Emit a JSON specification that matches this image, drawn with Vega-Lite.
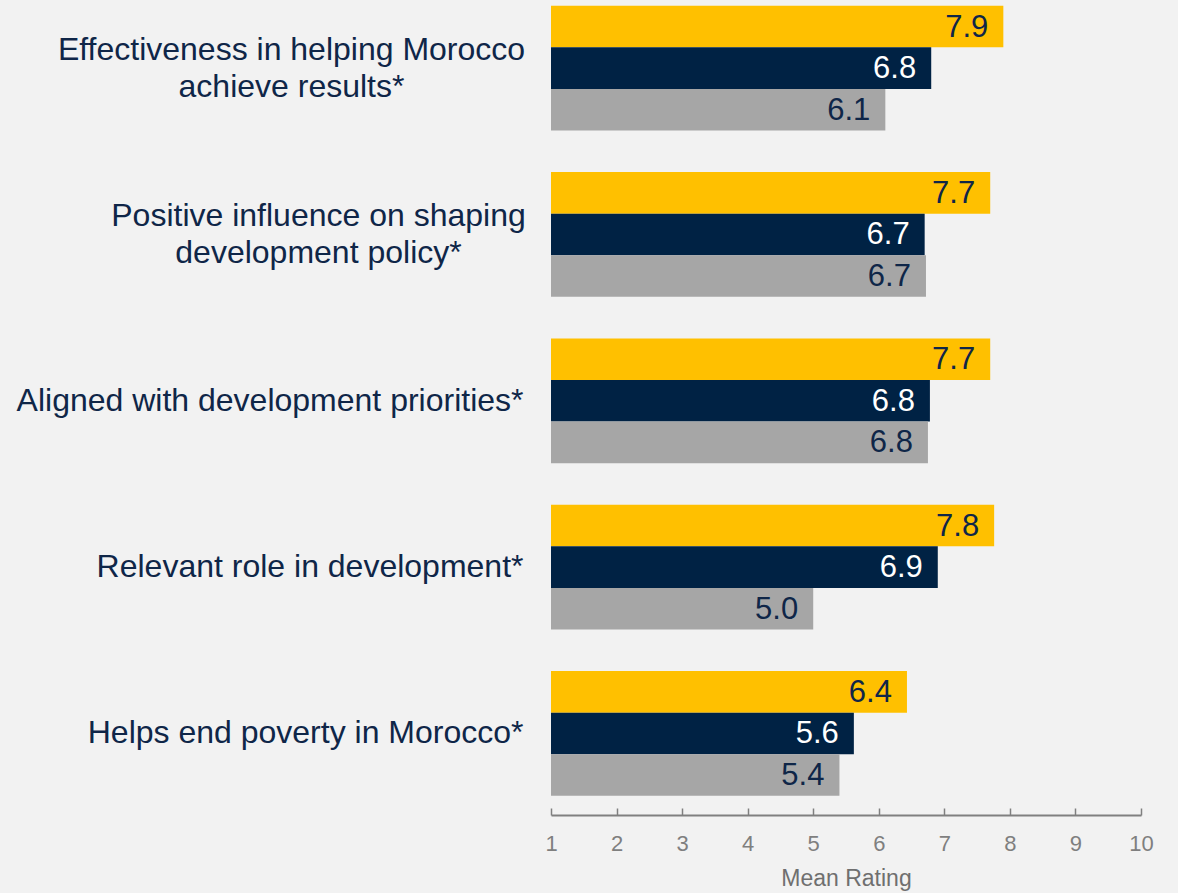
{
  "$schema": "https://vega.github.io/schema/vega-lite/v6.json",
  "autosize": "none",
  "width": 590,
  "height": 815,
  "padding": {"left": 551, "top": 0, "right": 37, "bottom": 78},
  "background": "#f2f2f2",
  "config": {"view": {"stroke": null}, "font": "Liberation Sans"},
  "data": {
    "values": [
      {"category": "Effectiveness in helping Morocco|achieve results*", "series": "A", "value": 7.9},
      {"category": "Effectiveness in helping Morocco|achieve results*", "series": "B", "value": 6.8},
      {"category": "Effectiveness in helping Morocco|achieve results*", "series": "C", "value": 6.1},
      {"category": "Positive influence on shaping|development policy*", "series": "A", "value": 7.7},
      {"category": "Positive influence on shaping|development policy*", "series": "B", "value": 6.7},
      {"category": "Positive influence on shaping|development policy*", "series": "C", "value": 6.72},
      {"category": "Aligned with development priorities*", "series": "A", "value": 7.7},
      {"category": "Aligned with development priorities*", "series": "B", "value": 6.78},
      {"category": "Aligned with development priorities*", "series": "C", "value": 6.75},
      {"category": "Relevant role in development*", "series": "A", "value": 7.76},
      {"category": "Relevant role in development*", "series": "B", "value": 6.9},
      {"category": "Relevant role in development*", "series": "C", "value": 5.0},
      {"category": "Helps end poverty in Morocco*", "series": "A", "value": 6.43},
      {"category": "Helps end poverty in Morocco*", "series": "B", "value": 5.62},
      {"category": "Helps end poverty in Morocco*", "series": "C", "value": 5.4}
    ]
  },
  "encoding": {
    "y": {
      "field": "category",
      "type": "nominal",
      "sort": null,
      "scale": {"paddingInner": 0.25, "paddingOuter": 0.075, "align": 0.23},
      "axis": {
        "title": null,
        "domain": false,
        "ticks": false,
        "labelExpr": "split(datum.label, '|')",
        "labelFontSize": 32,
        "labelLineHeight": 37,
        "labelColor": "#0f2648",
        "labelPadding": {
          "condition": [
            {"test": "indexof(datum.value, 'Effectiveness') >= 0", "value": 260},
            {"test": "indexof(datum.value, 'Positive') >= 0", "value": 233}
          ],
          "value": 28
        },
        "labelAlign": {
          "condition": {"test": "indexof(datum.value, '|') >= 0", "value": "center"},
          "value": "right"
        },
        "labelOffset": {
          "condition": {"test": "indexof(datum.value, '|') >= 0", "value": -18},
          "value": 0
        },
        "labelLimit": 0,
        "labelFont": "Liberation Sans"
      }
    },
    "yOffset": {
      "field": "series",
      "type": "nominal",
      "sort": ["A", "B", "C"],
      "scale": {"paddingInner": 0, "paddingOuter": 0}
    }
  },
  "layer": [
    {
      "mark": {"type": "bar", "cornerRadius": 0},
      "encoding": {
        "x": {
          "field": "value",
          "type": "quantitative",
          "scale": {"domain": [1, 10], "nice": false, "zero": false},
          "axis": {
            "values": [1, 2, 3, 4, 5, 6, 7, 8, 9, 10],
            "format": "d",
            "grid": false,
            "title": "Mean Rating",
            "titleFontSize": 23,
            "titleFontWeight": "normal",
            "titleColor": "#6f6f6f",
            "titleFont": "Liberation Sans",
            "titlePadding": 13,
            "domainColor": "#808080",
            "domainWidth": 2,
            "tickColor": "#808080",
            "tickWidth": 1.5,
            "tickSize": -7,
            "labelFontSize": 22,
            "labelColor": "#7f7f7f",
            "labelPadding": 25,
            "labelFont": "Liberation Sans",
            "labelFlush": false
          }
        },
        "x2": {"datum": 1},
        "color": {
          "field": "series",
          "type": "nominal",
          "scale": {"domain": ["A", "B", "C"], "range": ["#ffc000", "#002244", "#a6a6a6"]},
          "legend": null
        }
      }
    },
    {
      "mark": {"type": "text", "align": "right", "baseline": "middle", "dx": -15, "dy": 1, "fontSize": 31, "font": "Liberation Sans"},
      "encoding": {
        "x": {"field": "value", "type": "quantitative"},
        "text": {"field": "value", "type": "quantitative", "format": ".1f"},
        "color": {
          "field": "series",
          "type": "nominal",
          "scale": {"domain": ["A", "B", "C"], "range": ["#0f2648", "#ffffff", "#0f2648"]},
          "legend": null
        }
      }
    }
  ],
  "resolve": {"scale": {"color": "independent"}}
}
